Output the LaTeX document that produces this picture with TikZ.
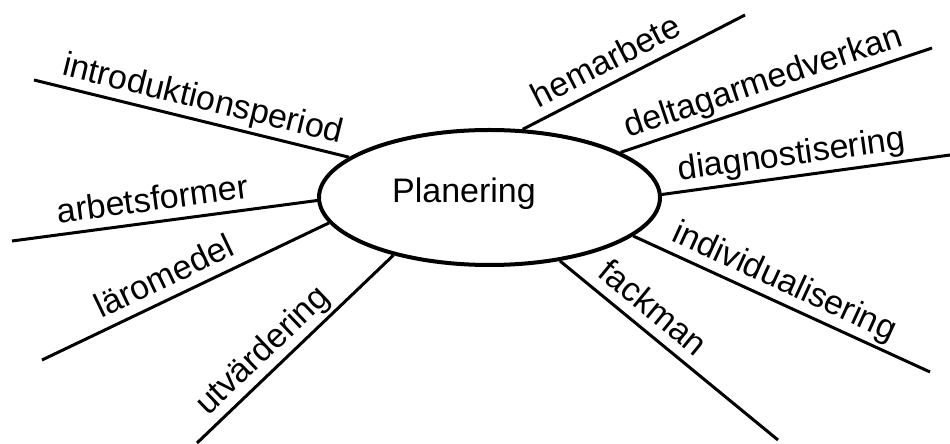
\documentclass[tikz,border=0pt]{standalone}
\usepackage{fontspec}
\setmainfont{Liberation Sans}
\usetikzlibrary{shapes.geometric}
\begin{document}
\begin{tikzpicture}[x=1pt,y=1pt,
  hub/.style={ellipse, draw, line width=4pt, minimum width=341pt, minimum height=135pt, inner sep=0pt},
  spoke/.style={line width=3pt},
  lab/.style={sloped, anchor=south, inner xsep=0pt, inner ysep=10pt, text depth=0pt, font=\fontsize{34}{37}\selectfont},
  title/.style={anchor=base, inner sep=0pt, font=\fontsize{34}{37}\selectfont}]
\useasboundingbox (0,0) rectangle (950,444);
\node[hub] (P) at (489.5,246.5) {};
\node[title] (T) at (464,241) {Planering};
% outer ends
\coordinate (e1) at (34,364);
\coordinate (e2) at (12,203);
\coordinate (e3) at (42,84);
\coordinate (e4) at (197,1);
\coordinate (e5) at (745,429);
\coordinate (e6) at (932,396);
\coordinate (e7) at (950,289);
\coordinate (e8) at (930,72);
\coordinate (e9) at (778,4);
\draw[spoke] (e1) -- node[lab, pos=.52] {introduktionsperiod} (P.164.5);
\draw[spoke] (e2) -- node[lab, pos=.47] {arbetsformer} (P.181.5);
\draw[spoke] (e3) -- node[lab, pos=.46] {läromedel} (P.189.3);
\draw[spoke] (e4) -- node[lab, pos=.41] {utvärdering} (P.211.7);
\draw[spoke] (P.64.6) -- node[lab, pos=.42] {hemarbete} (e5);
\draw[spoke] (P.19.2) -- node[lab, pos=.48] {deltagarmedverkan} (e6);
\draw[spoke] (P.1.5) -- node[lab, pos=.46] {diagnostisering} (e7);
\draw[spoke] (P.-15.6) -- node[lab, pos=.48] {individualisering} (e8);
\draw[spoke] (P.-42.6) -- node[lab, pos=.36] {fackman} (e9);
\end{tikzpicture}
\end{document}
